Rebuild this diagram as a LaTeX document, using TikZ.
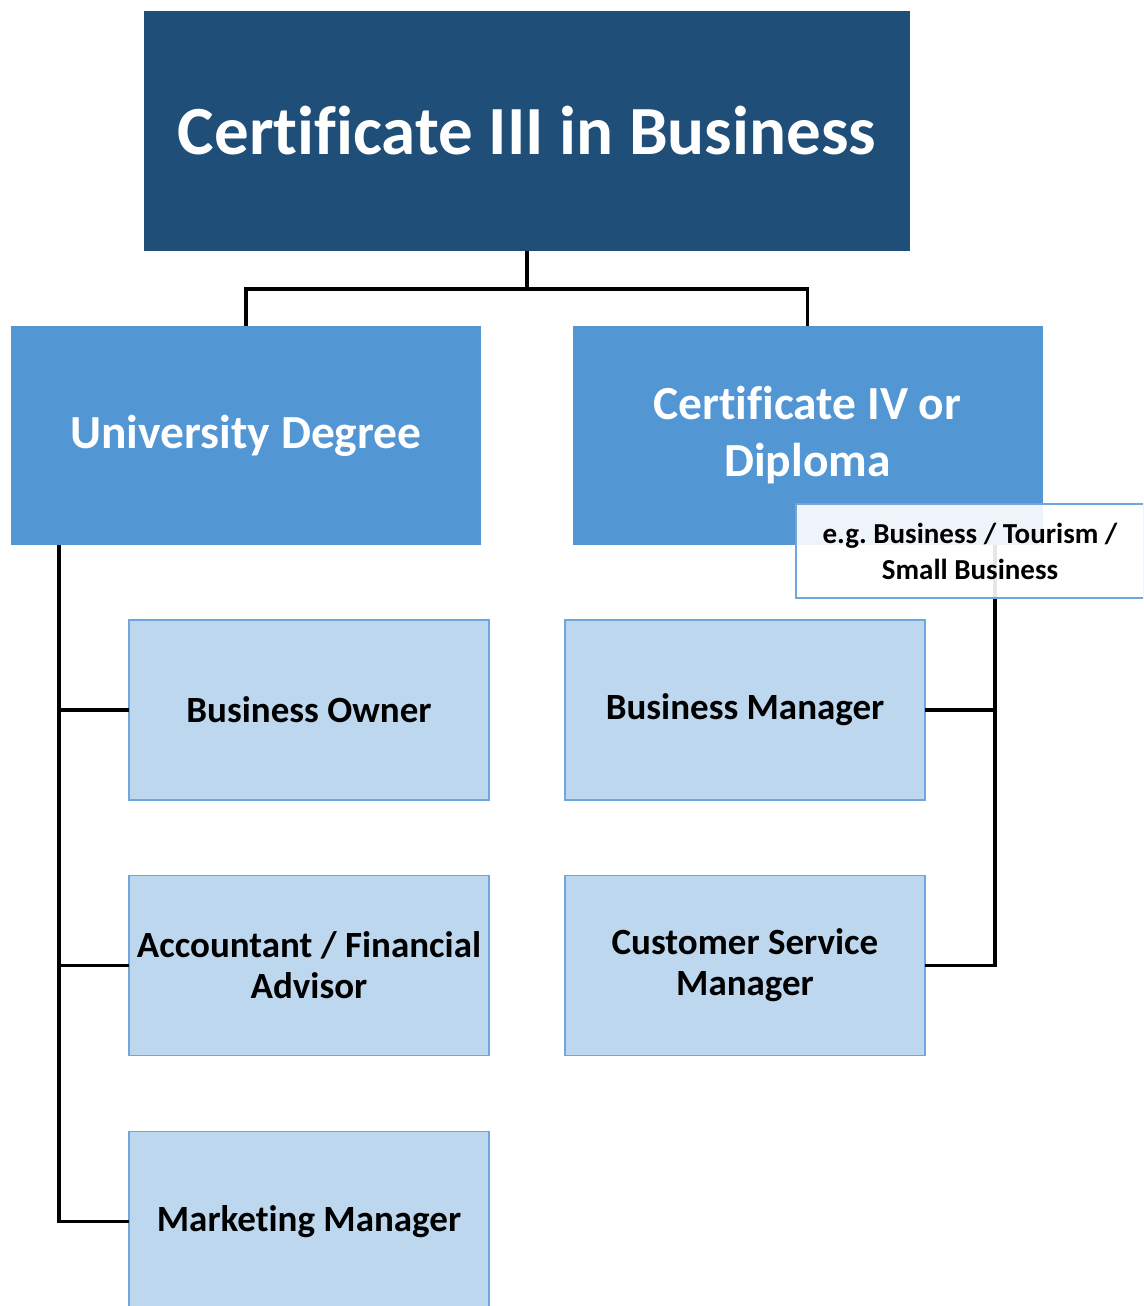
\documentclass[tikz,border=0pt]{standalone}
\usepackage{fontspec}
\setmainfont{Carlito}[Ligatures=NoCommon]
\frenchspacing
\definecolor{darkblue}{HTML}{1F4E79}
\definecolor{midblue}{HTML}{5296D4}
\definecolor{lightblue}{HTML}{BDD7EE}
\definecolor{edgeblue}{HTML}{6FA6DC}
\begin{document}
\begin{tikzpicture}[x=1pt,y=-1pt,
  box/.style={rectangle,inner sep=0pt,outer sep=0pt,align=center,font=\bfseries},
  topbox/.style={box,fill=darkblue,text=white,minimum width=766pt,minimum height=240pt,font=\bfseries\fontsize{69}{75}\selectfont},
  midbox/.style={box,fill=midblue,text=white,minimum width=470pt,minimum height=219pt,font=\bfseries\fontsize{47.5}{57}\selectfont},
  jobbox/.style={box,fill=lightblue,draw=edgeblue,line width=1.5pt,minimum width=360pt,minimum height=180pt,font=\bfseries\fontsize{37}{41}\selectfont},
  notebox/.style={box,fill=white,fill opacity=0.9,text opacity=1,draw=edgeblue,line width=1.2pt,minimum width=348pt,minimum height=94pt,font=\bfseries\fontsize{29}{36}\selectfont},
  conn/.style={draw=black,line width=3.5pt}]
\useasboundingbox (0,0) rectangle (1143,1306);
\clip (0,0) rectangle (1143,1306);
\node[topbox] (title) at (527,131) {Certificate III in Business};
\node[midbox] (uni) at (246,435.5) {University Degree};
\node[midbox] (cert) at (807.5,435.5) {Certificate IV or\\Diploma};
\node[jobbox] (owner) at (309,710) {Business Owner};
\node[jobbox] (acct) at (309,965.5) {Accountant / Financial\\Advisor};
\node[jobbox] (mkt) at (309,1221.5) {Marketing Manager};
\node[jobbox] (bman) at (745,710) {Business Manager};
\node[jobbox] (csm) at (745,965.5) {Customer Service\\Manager};
\coordinate (split) at (527,289);
\coordinate (lspine) at (59,545);
\coordinate (rspine) at (995,545);
\draw[conn] (title.south) -- (split);
\draw[conn] (split) -| (uni.north);
\draw[conn] (split) -| (cert.north);
\draw[conn] (lspine) |- (owner.west);
\draw[conn] (lspine) |- (acct.west);
\draw[conn] (lspine) |- (mkt.west);
\draw[conn] (rspine) |- (bman.east);
\draw[conn] (rspine) |- (csm.east);
\node[notebox] (note) at (970,551) {e.g. Business / Tourism /\\Small Business};
\end{tikzpicture}
\end{document}
